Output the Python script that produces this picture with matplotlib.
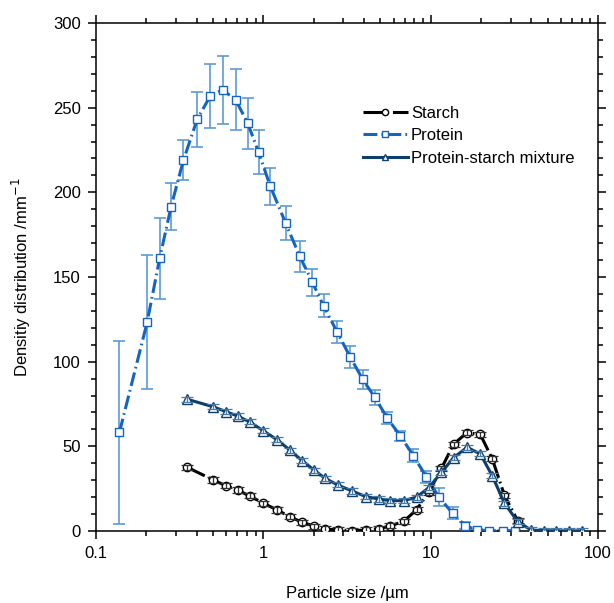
import numpy as np
import matplotlib
matplotlib.use("Agg")
import matplotlib.pyplot as plt
from matplotlib.ticker import FixedLocator, LogLocator, MultipleLocator, NullFormatter

plt.rcParams['font.family'] = ['Liberation Sans', 'DejaVu Sans']
plt.rcParams['lines.scale_dashes'] = False

# particle size bins (um) and density distributions (1/mm)
size_protein = [0.138, 0.202, 0.240, 0.281, 0.333, 0.402, 0.482, 0.571, 0.683, 0.806,
                0.937, 1.10, 1.36, 1.65, 1.96, 2.29, 2.76, 3.31, 3.92, 4.63,
                5.51, 6.59, 7.88, 9.42, 11.2, 13.5, 16.1, 18.9, 22.4, 26.9, 32.1]
protein = [58.3, 123.2, 161, 191.6, 219, 243, 257, 260.5, 254.6, 240.8,
           223.7, 203.6, 181.7, 162.2, 147, 132.9, 117.5, 102.6, 89.6, 79,
           66.6, 56.1, 44.5, 31.9, 20.1, 10.5, 3.1, 0.6, 0.2, 0.1, 0.1]
protein_err = [54, 39.5, 24, 14, 12, 16, 19, 20, 18, 15,
               13, 11, 10, 9, 8, 6.8, 6.6, 6.5, 5.7, 4.5,
               3.5, 3, 4, 3.5, 5.2, 3.4, 2, 0.5, 0.5, 0.5, 0.5]

size_mix = [0.351, 0.503, 0.601, 0.701, 0.827, 1.00, 1.21, 1.44, 1.70, 2.02,
            2.33, 2.78, 3.39, 4.10, 4.89, 5.74, 6.89, 8.23, 9.75, 11.6,
            13.7, 16.5, 19.8, 23.3, 27.6, 33.1, 39.8, 47.3, 56.4, 67.4, 80.3]
mixture = [77.8, 73.3, 70.4, 67.9, 64.4, 59.2, 53.8, 47.8, 41.6, 35.8,
           31.2, 27.2, 23.6, 20.3, 18.9, 17.9, 17.9, 20.0, 25.6, 34.7,
           43.3, 49.4, 45.5, 32.7, 16.4, 5.5, 0.6, 0.2, 0.1, 0.1, 0.1]
mixture_err = [1.5] * len(mixture)

size_starch = size_mix[:26]
starch = [37.6, 30.1, 26.6, 24.2, 20.7, 16.4, 12.4, 8.4, 5.2, 2.8,
          1.2, 0.6, 0.2, 0.6, 1.4, 3.0, 5.7, 12.5, 23.0, 37.0,
          51.3, 58.1, 57.0, 42.7, 21.0, 6.0]
starch_err = [1.5] * len(starch)

c_starch = 'black'
c_protein = '#1565c0'
c_protein_err = '#5b9bd5'
c_mix = '#0d3f6e'

fig = plt.figure(figsize=(6.14, 6.03), dpi=100)
ax = fig.add_axes([0.1564, 0.1194, 0.8176, 0.8425])

# protein: error bars below markers
ax.errorbar(size_protein, protein, yerr=protein_err, fmt='none', ecolor=c_protein_err,
            elinewidth=1.2, capsize=4, capthick=1.2, zorder=2)
ax.plot(size_protein, protein, color=c_protein, lw=2.2, dashes=(10, 3, 1.2, 3),
        marker='s', ms=6, mfc='white', mec=c_protein, mew=1.0, zorder=3, label='Protein')

# starch
ax.plot(size_starch, starch, color=c_starch, lw=2.2, dashes=(14, 3, 1.2, 3),
        marker='o', ms=6, mfc='white', mec=c_starch, mew=1.0, zorder=4, label='Starch')
ax.errorbar(size_starch, starch, yerr=starch_err, fmt='none', ecolor='#333333',
            elinewidth=0.9, capsize=4, capthick=0.9, zorder=4.5)

# mixture
ax.plot(size_mix, mixture, color=c_mix, lw=2.2, ls='-',
        marker='^', ms=6.5, mfc='white', mec=c_mix, mew=1.0, zorder=5,
        label='Protein-starch mixture')
ax.errorbar(size_mix, mixture, yerr=mixture_err, fmt='none', ecolor='#4a7aa8',
            elinewidth=0.9, capsize=4, capthick=0.9, zorder=5.5)

ax.set_xscale('log')
ax.set_xlim(0.1, 100)
ax.set_ylim(0, 300)
ax.xaxis.set_major_locator(FixedLocator([0.1, 1, 10, 100]))
ax.set_xticklabels(['0.1', '1', '10', '100'])
ax.xaxis.set_minor_locator(LogLocator(base=10, subs=np.arange(2, 10)))
ax.xaxis.set_minor_formatter(NullFormatter())
ax.yaxis.set_major_locator(MultipleLocator(50))
ax.yaxis.set_minor_locator(MultipleLocator(10))

ax.tick_params(which='both', direction='out', top=True, right=True, width=1.1,
               labelsize=12, colors='black')
ax.tick_params(which='major', length=6, pad=5)
ax.tick_params(which='minor', length=3.5)
for s in ax.spines.values():
    s.set_linewidth(1.1)

ax.set_xlabel('Particle size /µm', fontsize=12, labelpad=18)
ax.set_ylabel('Densitiy distribution /mm$^{-1}$', fontsize=12, labelpad=14)

h, l = ax.get_legend_handles_labels()
order = [l.index('Starch'), l.index('Protein'), l.index('Protein-starch mixture')]
ax.legend([h[i] for i in order], [l[i] for i in order], loc='upper left',
          bbox_to_anchor=(0.508, 0.86), frameon=False, fontsize=12,
          handlelength=2.7, handletextpad=0.2, labelspacing=0.45, markerscale=0.75,
          borderpad=0.2)

fig.savefig('out.png', dpi=100)
